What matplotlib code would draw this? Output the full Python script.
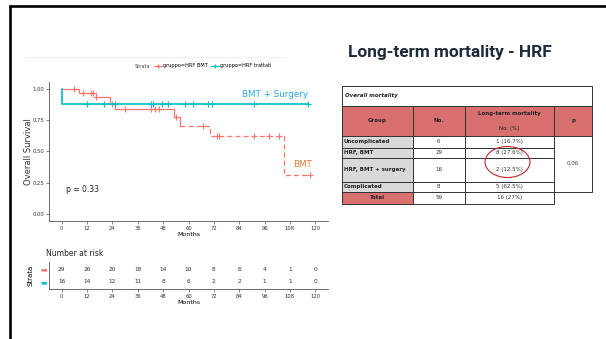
import numpy as np
import matplotlib
matplotlib.use('Agg')
import matplotlib.pyplot as plt
from matplotlib.lines import Line2D
from matplotlib.patches import Rectangle, Ellipse

# curve KM - gruppo HRF BMT
bmt_times = [0, 8, 16, 23, 25, 53, 56, 70, 105]
bmt_surv = [1.0, 0.966, 0.93, 0.88, 0.84, 0.775, 0.705, 0.625, 0.31]
bmt_end = 117.6
bmt_cens = [6, 10, 13.7, 14.8, 16.4, 24, 30, 42.4, 44, 46, 54, 67, 73.5, 74.3, 91, 98, 103, 117.6]

# curve KM - gruppo HRF trattati (BMT + surgery)
surg_times = [0, 0]
surg_surv = [1.0, 0.875]
surg_end = 116.5
surg_cens = [12, 20, 25.2, 42.4, 43.3, 47.4, 50.2, 58.3, 62.2, 69.3, 71.3, 91.2, 116.4]

# number at risk
risk_times = [0, 12, 24, 36, 48, 60, 72, 84, 96, 108, 120]
risk_bmt = [29, 26, 20, 18, 14, 10, 8, 6, 4, 1, 0]
risk_surg = [16, 14, 12, 11, 8, 6, 2, 2, 1, 1, 0]

# tabella mortalita
groups = ['Uncomplicated', 'HRF, BMT', 'HRF, BMT + surgery', 'Complicated', 'Total']
counts = [6, 29, 16, 8, 59]
mortality = ['1 (16.7%)', '8 (27.6%)', '2 (12.5%)', '5 (62.5%)', '16 (27%)']
p_value = '0.06'

red = '#F8766D'
teal = '#00BFC4'
hdr_red = '#d97070'
W, H = 606, 339

plt.rcParams['font.family'] = ['DejaVu Sans']

fig = plt.figure(figsize=(6.06, 3.39), dpi=100)


def box(x0, y0, x1, y1):
    return [x0 / W, 1 - y1 / H, (x1 - x0) / W, (y1 - y0) / H]


# sfondo slide (coordinate in pixel)
ov = fig.add_axes([0, 0, 1, 1])
ov.set_xlim(0, W)
ov.set_ylim(H, 0)
ov.axis('off')
ov.plot([9, W], [6, 6], color='black', lw=1.9, solid_capstyle='butt')
ov.plot([10.3, 10.3], [5, H], color='black', lw=1.9, solid_capstyle='butt')
ov.plot([25, 285], [57, 57], color='#eeeeee', lw=0.6)

ov.text(348, 52, 'Long-term mortality - HRF', fontsize=12.4, fontweight='bold',
        family=['Roboto', 'DejaVu Sans'], color='#1d2b3a', va='center', ha='left')

# legenda in alto
ov.text(150, 66, 'Strata', fontsize=3.6, color='#444444', va='center', ha='right')
handles = [Line2D([], [], color=red, marker='+', ms=3, lw=0.8),
           Line2D([], [], color=teal, marker='+', ms=3, lw=0.8)]
fig.legend(handles, ['gruppo=HRF BMT', 'gruppo=HRF trattati'], ncol=2, frameon=False,
           loc='center left', bbox_to_anchor=(151 / W, 1 - 66 / H), fontsize=3.6,
           handlelength=1.6, handletextpad=0.3, columnspacing=0.6, borderpad=0)

# KM plot
ax = fig.add_axes(box(49, 81.7, 328, 221))
bx = list(bmt_times) + [bmt_end]
by = list(bmt_surv) + [bmt_surv[-1]]
k = 6  # da qui la curva rossa diventa tratteggiata
ax.step(bx[:k + 1], by[:k + 1], where='post', color=red, lw=0.9)
ax.step(bx[k:], by[k:], where='post', color=red, lw=0.9, dashes=(4, 2.5))
bmt_cy = [bmt_surv[np.searchsorted(bmt_times, t, side='right') - 1] for t in bmt_cens]
ax.plot(bmt_cens, bmt_cy, ls='none', marker='+', ms=4, mew=0.8, color=red)

sx = list(surg_times) + [surg_end]
sy = list(surg_surv) + [surg_surv[-1]]
ax.step(sx, sy, where='post', color=teal, lw=1.2)
ax.plot(surg_cens, [surg_surv[-1]] * len(surg_cens), ls='none', marker='+', ms=4,
        mew=0.8, color=teal)

ax.text(85.4, 0.952, 'BMT + Surgery', color='#2aa7df', fontsize=6.3, va='center')
ax.text(109.5, 0.397, 'BMT', color='#e07a3c', fontsize=6.3, va='center')
ax.text(2.2, 0.193, 'p = 0.33', fontsize=5.5, va='center', color='#222222')

ax.set_xlim(-6, 126)
ax.set_ylim(-0.055, 1.055)
ax.set_xticks(risk_times)
ax.set_yticks([0, 0.25, 0.5, 0.75, 1.0])
ax.set_yticklabels(['0.00', '0.25', '0.50', '0.75', '1.00'])
ax.set_xlabel('Months', fontsize=4.5, labelpad=1)
ax.set_ylabel('Overall Survival', fontsize=6, color='#333333')
ax.yaxis.set_label_coords(-0.057, 0.5)
for s in ['top', 'right']:
    ax.spines[s].set_visible(False)
for s in ['left', 'bottom']:
    ax.spines[s].set_color('#555555')
    ax.spines[s].set_linewidth(0.6)
ax.tick_params(labelsize=3.8, length=2, width=0.5, pad=1.5, colors='#555555', labelcolor='#333333')
ax.patch.set_alpha(0)

# tabella numero a rischio
rx = fig.add_axes(box(49, 262, 328, 289))
for i, t in enumerate(risk_times):
    rx.text(t, 2, str(risk_bmt[i]), ha='center', va='center', fontsize=4.2, color='#333333')
    rx.text(t, 1, str(risk_surg[i]), ha='center', va='center', fontsize=4.2, color='#333333')
rx.set_xlim(-6, 126)
rx.set_ylim(0.4, 2.6)
rx.set_xticks(risk_times)
rx.set_yticks([2, 1])
rx.set_yticklabels(['▬', '▬'], fontsize=5)
rx.set_xlabel('Months', fontsize=4.5, labelpad=1)
rx.set_ylabel('Strata', fontsize=5)
rx.yaxis.set_label_coords(-0.057, 0.5)
rx.set_title('Number at risk', fontsize=5.5, loc='left', pad=4, x=-0.01, color='#222222')
for s in ['top', 'right']:
    rx.spines[s].set_visible(False)
for s in ['left', 'bottom']:
    rx.spines[s].set_color('#555555')
    rx.spines[s].set_linewidth(0.6)
rx.tick_params(labelsize=3.8, length=2, width=0.5, pad=1.5, colors='#555555', labelcolor='#333333')
rx.tick_params(axis='y', length=0, labelsize=5)
for lab, c in zip(rx.get_yticklabels(), [red, teal]):
    lab.set_color(c)
rx.patch.set_alpha(0)

# tabella overall mortality
cx = [342, 412.7, 465, 554, 592]
ry = [86, 105.7, 136, 147.7, 158, 181.7, 191.7, 204]
lc = '#333333'


def cell(x0, x1, y0, y1, fc='white'):
    ov.add_patch(Rectangle((x0, y0), x1 - x0, y1 - y0, facecolor=fc, edgecolor=lc, lw=0.7))


cell(cx[0], cx[4], ry[0], ry[1])
ov.text(cx[0] + 3, (ry[0] + ry[1]) / 2, 'Overall mortality', fontsize=4, fontweight='bold',
        style='italic', va='center', color='#222222')
for j in range(4):
    cell(cx[j], cx[j + 1], ry[1], ry[2], hdr_red)
hy = (ry[1] + ry[2]) / 2
ov.text((cx[0] + cx[1]) / 2, hy, 'Group', fontsize=4, fontweight='bold', ha='center', va='center', color='#222222')
ov.text((cx[1] + cx[2]) / 2, hy, 'No.', fontsize=4, fontweight='bold', ha='center', va='center', color='#222222')
ov.text((cx[2] + cx[3]) / 2, hy - 7.5, 'Long-term mortality', fontsize=4, fontweight='bold', ha='center', va='center', color='#222222')
ov.text((cx[2] + cx[3]) / 2, hy + 7.5, 'No. (%)', fontsize=4, ha='center', va='center', color='#222222')
ov.text((cx[3] + cx[4]) / 2, hy, 'p', fontsize=4, fontweight='bold', ha='center', va='center', color='#222222')

for i, g in enumerate(groups):
    y0, y1 = ry[i + 2], ry[i + 3]
    ym = (y0 + y1) / 2
    last = i == len(groups) - 1
    cell(cx[0], cx[1], y0, y1, hdr_red if last else '#d9d9d9')
    cell(cx[1], cx[2], y0, y1)
    cell(cx[2], cx[3], y0, y1)
    if last:
        ov.text((cx[0] + cx[1]) / 2, ym, g, fontsize=4, fontweight='bold', ha='center', va='center', color='#222222')
    else:
        ov.text(cx[0] + 2, ym, g, fontsize=4, fontweight='bold', ha='left', va='center', color='#222222')
    ov.text((cx[1] + cx[2]) / 2, ym, str(counts[i]), fontsize=4, ha='center', va='center', color='#333333')
    ov.text((cx[2] + cx[3]) / 2, ym, mortality[i], fontsize=4, ha='center', va='center', color='#333333')

cell(cx[3], cx[4], ry[2], ry[6])
ov.text((cx[3] + cx[4]) / 2, (ry[2] + ry[6]) / 2, p_value, fontsize=4, ha='center', va='center', color='#444444')

ov.add_patch(Ellipse((507.5, 162), 45, 31, facecolor='none', edgecolor='#c0282d', lw=0.8))

fig.savefig('out.png', dpi=100)
